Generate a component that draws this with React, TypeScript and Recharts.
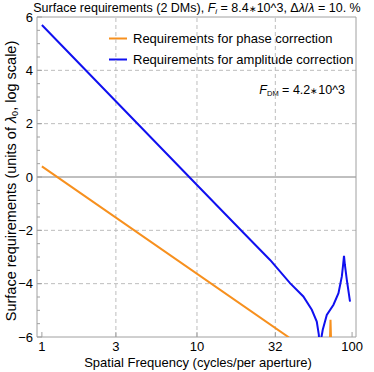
import React from 'react';
import { LineChart, Line, XAxis, YAxis, ReferenceLine } from 'recharts';

// axis ticks
const xTicks = [1, 3, 10, 32, 100];
const yTicks = [-6, -4, -2, 0, 2, 4, 6];
const yMinorTicks = [
  -6, -5.5, -5, -4.5, -4, -3.5, -3, -2.5, -2, -1.5, -1, -0.5, 0,
  0.5, 1, 1.5, 2, 2.5, 3, 3.5, 4, 4.5, 5, 5.5, 6,
];
const xGrid = [3, 10, 32];
const yGrid = [4, 2, -2, -4];

// phase correction curve (log10 units of lambda0)
const phaseFreq = [1, 38.8, 45, 70, 71.6, 72.6, 73.6, 76, 100];
const phaseLevel = [0.4, -6, -6.4, -8, -6.6, -5.35, -6.6, -8, -8];

// amplitude correction curve
const ampFreq = [
  1, 10, 20, 29.6, 39.8, 48.5, 55, 59.2, 61, 62, 62.2, 62.5, 63.5, 64.7,
  68.7, 75.9, 81.7, 85.9, 87.5, 88.7, 89.9, 92.5, 97,
];
const ampLevel = [
  5.7, -0.3, -2.1, -3.11, -3.98, -4.48, -4.98, -5.42, -5.9, -6.5, -7.5, -6.5, -6.0, -5.73,
  -5.17, -4.79, -4.36, -3.73, -3.3, -2.96, -3.3, -3.86, -4.67,
];

const phaseData = phaseFreq.map((f, i) => ({ f, v: phaseLevel[i] }));
const ampData = ampFreq.map((f, i) => ({ f, v: ampLevel[i] }));

const X_DOMAIN: [number, number] = [0.93, 106];
const Y_DOMAIN: [number, number] = [-6, 6];

const FONT = '"Liberation Sans", Arial, Helvetica, sans-serif';
const FS = 13;
const ORANGE = '#f7901e';
const BLUE = '#1010f0';
const FRAME = '#a0a0a0';
const GRID = '#bdbdbd';

const YTick = ({ x, y, payload }: any) => {
  const major = yTicks.includes(payload.value);
  const label = payload.value < 0 ? `\u2212${Math.abs(payload.value)}` : `${payload.value}`;
  return (
    <g>
      <line x1={x} x2={x + (major ? 5 : 3)} y1={y} y2={y} stroke={FRAME} />
      {major && (
        <text x={x - 4} y={y} dy={4.5} textAnchor="end" fontSize={FS} fill="#000" fontFamily={FONT}>
          {label}
        </text>
      )}
    </g>
  );
};

const XTick = ({ x, y, payload }: any) => (
  <g>
    <line x1={x} x2={x} y1={y} y2={y - 5} stroke={FRAME} />
    <text x={x} y={y + 14} textAnchor="middle" fontSize={FS} fill="#000" fontFamily={FONT}>
      {payload.value}
    </text>
  </g>
);

export default function App() {
  return (
    <div style={{ position: 'absolute', left: 0, top: 0, background: '#fff' }}>
      <LineChart width={374} height={372} margin={{ top: 17, right: 18, left: 0, bottom: 0 }}>
        <XAxis
          dataKey="f"
          type="number"
          scale="log"
          domain={X_DOMAIN}
          ticks={xTicks}
          allowDataOverflow
          axisLine={false}
          tickLine={false}
          tickSize={0}
          tickMargin={0}
          interval={0}
          height={35}
          tick={<XTick />}
        />
        <YAxis
          type="number"
          domain={Y_DOMAIN}
          ticks={yMinorTicks}
          allowDataOverflow
          axisLine={false}
          tickLine={false}
          tickSize={0}
          tickMargin={0}
          interval={0}
          width={37}
          tick={<YTick />}
        />
        {xGrid.map((v) => (
          <ReferenceLine key={`gx-${v}`} x={v} stroke={GRID} strokeDasharray="4 3" />
        ))}
        {yGrid.map((v) => (
          <ReferenceLine key={`gy-${v}`} y={v} stroke={GRID} strokeDasharray="4 3" />
        ))}
        <ReferenceLine y={0} stroke="#808080" />
        {/* frame */}
        <ReferenceLine x={X_DOMAIN[0]} stroke={FRAME} />
        <ReferenceLine x={X_DOMAIN[1]} stroke={FRAME} />
        <ReferenceLine y={Y_DOMAIN[0]} stroke={FRAME} />
        <ReferenceLine y={Y_DOMAIN[1]} stroke={FRAME} />
        <Line
          data={phaseData}
          dataKey="v"
          type="linear"
          stroke={ORANGE}
          strokeWidth={2}
          dot={false}
          isAnimationActive={false}
        />
        <Line
          data={ampData}
          dataKey="v"
          type="linear"
          stroke={BLUE}
          strokeWidth={2}
          dot={false}
          isAnimationActive={false}
        />
        {/* title */}
        <text x={197} y={12} textAnchor="middle" fontSize={12.5} fontFamily={FONT} fill="#000">
          Surface requirements (2 DMs), <tspan fontStyle="italic">F</tspan>
          <tspan fontStyle="italic" fontSize={8} dy={2}>i</tspan>
          <tspan dy={-2}> = 8.4</tspan>
          <tspan fontSize={9}>∗</tspan>
          <tspan>10^3, Δ</tspan>
          <tspan fontStyle="italic">λ</tspan>/<tspan fontStyle="italic">λ</tspan> = 10. %
        </text>
        {/* legend */}
        <line x1={109} x2={127} y1={38.5} y2={38.5} stroke={ORANGE} strokeWidth={2} />
        <text x={133} y={43} fontSize={FS} fontFamily={FONT} fill="#000">
          Requirements for phase correction
        </text>
        <line x1={109} x2={127} y1={59.5} y2={59.5} stroke={BLUE} strokeWidth={2} />
        <text x={133} y={64} fontSize={FS} fontFamily={FONT} fill="#000">
          Requirements for amplitude correction
        </text>
        {/* DM annotation */}
        <text x={345} y={94} textAnchor="end" fontSize={12.5} fontFamily={FONT} fill="#000">
          <tspan fontStyle="italic">F</tspan>
          <tspan fontSize={7.5} dy={2}>DM</tspan>
          <tspan dy={-2}> = 4.2</tspan>
          <tspan fontSize={9}>∗</tspan>
          <tspan>10^3</tspan>
        </text>
        {/* axis labels */}
        <text
          x={12}
          y={181}
          transform="rotate(-90 12 181)"
          textAnchor="middle"
          dy={4}
          fontSize={14.5}
          fontFamily={FONT}
          fill="#000"
        >
          Surface requirements (units of <tspan fontStyle="italic">λ</tspan>
          <tspan fontSize={9} dy={2}>0</tspan>
          <tspan dy={-2}>, log scale)</tspan>
        </text>
        <text x={198} y={367} textAnchor="middle" fontSize={FS} fontFamily={FONT} fill="#000">
          Spatial Frequency (cycles/per aperture)
        </text>
      </LineChart>
    </div>
  );
}
